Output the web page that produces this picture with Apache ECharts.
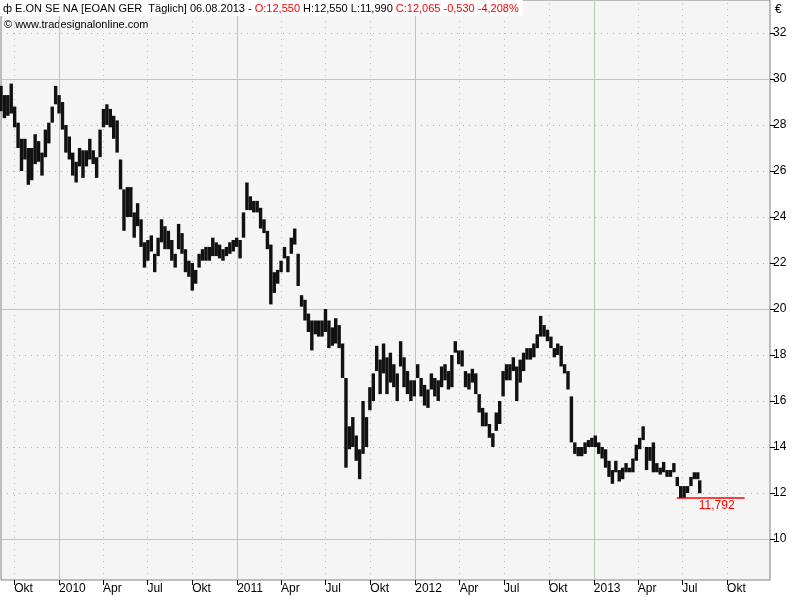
<!DOCTYPE html>
<html><head><meta charset="utf-8">
<script src="https://cdn.jsdelivr.net/npm/echarts@6/dist/echarts.min.js"></script>
<style>html,body{margin:0;padding:0;background:#fff}#c{width:800px;height:600px}</style>
</head><body><div id="c"></div>
<script>
// ---- data ----
const firstWeek = '2009-09-04';   // weekly bars (Fridays) start here
const lastDay = '2013-08-06';     // final (partial) bar
const weekLow = [28.6,28.3,28.4,28.5,27.9,27.0,26.0,26.5,25.4,25.6,26.3,26.4,25.8,26.6,27.2,28.1,28.9,28.5,27.8,26.8,
26.5,25.8,25.5,26.2,25.7,26.2,26.5,26.3,25.7,26.6,27.9,28.0,27.9,27.4,26.8,25.2,23.4,24.0,24.0,23.1,
23.6,22.7,21.8,22.1,22.5,21.6,22.3,22.9,22.6,22.6,22.1,21.8,22.6,22.4,21.6,21.4,20.8,21.1,21.8,22.1,
22.1,22.1,22.3,22.3,22.2,22.1,22.3,22.4,22.5,22.7,22.2,23.1,24.3,24.3,24.2,24.2,23.5,23.3,22.6,20.2,
20.7,21.1,21.6,22.2,21.6,22.4,22.8,21.0,20.1,19.5,19.0,18.2,18.9,18.8,18.8,19.0,18.3,18.4,18.5,18.3,
17.0,13.1,13.9,14.0,13.4,12.6,13.7,14.0,15.6,16.0,17.3,16.3,17.2,16.3,16.8,16.6,16.0,17.5,16.6,16.3,
16.0,16.2,17.0,16.2,15.8,15.7,16.5,16.2,16.0,16.6,16.9,16.5,16.6,18.1,17.6,17.5,16.6,16.5,16.8,16.3,
15.5,14.9,14.9,14.4,14.0,14.7,15.0,16.2,16.9,16.9,17.3,16.0,16.8,17.3,17.8,17.8,17.9,18.3,18.8,18.8,
18.6,18.3,17.9,18.0,17.5,17.2,16.5,14.2,13.7,13.6,13.6,13.7,14.0,14.0,14.0,13.7,13.5,13.1,12.7,12.4,
12.9,12.5,12.6,12.9,12.9,12.9,13.4,13.9,14.3,13.0,13.4,12.9,12.9,12.8,12.9,12.7,12.7,12.9,12.3,11.79,
11.8,12.0,12.3,12.6,12.6,11.99];
const weekHigh = [29.7,29.3,29.3,29.8,28.8,28.1,27.4,27.4,27.0,27.0,27.6,27.3,26.8,27.8,28.1,28.8,29.7,29.3,29.0,28.0,
27.5,26.8,26.4,27.0,26.9,26.9,27.4,26.9,26.6,27.8,28.7,28.9,28.7,28.4,28.2,26.5,25.2,25.3,25.3,24.2,
24.6,23.9,22.9,23.0,23.2,22.4,23.1,23.9,23.6,23.4,23.0,22.4,23.7,23.3,22.6,22.1,22.0,21.7,22.4,22.6,
22.7,22.7,23.1,22.9,22.8,22.6,22.7,22.9,23.0,23.1,23.0,24.2,25.5,24.9,24.7,24.7,24.4,23.9,23.4,22.8,
21.6,21.7,22.1,22.7,22.3,23.1,23.5,22.4,20.6,20.4,19.8,19.5,19.5,19.5,19.5,20.0,19.5,19.2,19.6,19.3,
18.5,17.0,14.9,15.3,14.5,13.9,16.0,15.3,16.6,17.2,18.4,17.8,18.5,17.9,18.1,17.6,17.2,18.6,17.9,17.3,
16.9,16.9,17.6,17.0,16.7,16.5,17.2,17.0,16.9,17.5,17.6,17.3,18.0,18.6,18.2,18.2,17.3,17.2,17.4,17.2,
16.3,15.7,15.5,15.0,14.6,15.5,16.0,17.3,17.6,17.6,17.9,17.5,17.8,18.1,18.3,18.3,18.5,18.9,19.7,19.3,
19.1,18.8,18.3,18.5,18.4,17.6,17.3,16.2,14.2,14.0,14.0,14.2,14.3,14.4,14.5,14.2,14.0,13.9,13.4,13.0,
13.4,13.0,13.1,13.3,13.1,13.5,14.1,14.4,14.9,14.0,14.0,14.2,13.3,13.1,13.35,13.0,13.0,13.3,12.7,12.3,
12.3,12.3,12.7,12.9,12.9,12.55];
const yTickValues = [10,12,14,16,18,20,22,24,26,28,30,32];
const yMajor = [10,20,30];
const quarterDates = ['2009-10-01','2010-01-01','2010-04-01','2010-07-01','2010-10-01','2011-01-01','2011-04-01',
'2011-07-01','2011-10-01','2012-01-01','2012-04-01','2012-07-01','2012-10-01','2013-01-01','2013-04-01','2013-07-01','2013-10-01'];
const monthNames = {3:'Apr',6:'Jul',9:'Okt'};
const lowMark = 11.792;
const lowMarkLabel = '11,792';
const lowMarkFrom = '2013-06-20', lowMarkTo = '2013-11-06';
const xRange = ['2009-09-04','2013-12-28'];
const yRange = [8.217, 33.435];

// ---- helpers ----
const ts = s => { const p = s.split('-').map(Number); return Date.UTC(p[0], p[1]-1, p[2]); };
const DAY = 86400000;
const dates = weekLow.map((_, i) => i === weekLow.length - 1 ? ts(lastDay) : ts(firstWeek) + i*7*DAY);
const bars = dates.map((d, i) => [d, weekLow[i], weekHigh[i]]);
const qTs = quarterDates.map(ts);

const gridLines = [];
yTickValues.forEach(v => gridLines.push({yAxis: v, lineStyle: yMajor.includes(v)
  ? {type:'solid', color:'#b7c9b7', width:1} : {type:[1,5], color:'#b0b0b0', width:1}}));
quarterDates.forEach((q, i) => gridLines.push({xAxis: qTs[i], lineStyle: q.endsWith('01-01')
  ? {type:'solid', color:'#b7c9b7', width:1} : {type:[1,5], color:'#a9c9a9', width:1}}));

const font = 'Liberation Sans, Arial, sans-serif';
const chart = echarts.init(document.getElementById('c'), null, {renderer:'canvas'});
chart.setOption({
  animation: false,
  backgroundColor: '#ffffff',
  grid: {left: 1, right: 30, top: 0, bottom: 20, show: true, backgroundColor: '#f5f5f5', borderColor: '#808080', borderWidth: 1},
  title: {
    text: '{i|ф} E.ON SE NA [EOAN GER  Täglich] 06.08.2013 - {r|O:12,550} H:12,550 L:11,990 {r|C:12,065 -0,530 -4,208%}',
    left: 0, top: 0, padding: [3, 4, 2, 3], backgroundColor: '#ffffff',
    textStyle: {fontSize: 11, fontWeight: 'normal', color: '#000', fontFamily: font,
      rich: {i: {fontSize: 11, color: '#000', fontFamily: font}, r: {fontSize: 11, color: '#ff0000', fontFamily: font}}}
  },
  graphic: [
    {type:'text', left: 4, top: 19, style: {text: '© www.tradesignalonline.com', font: '11px ' + font, fill: '#000'}},
    {type:'text', left: 775, top: 4, style: {text: '€', font: '12px ' + font, fill: '#000'}}
  ],
  xAxis: {
    type: 'value', min: ts(xRange[0]), max: ts(xRange[1]),
    axisLine: {show: false}, splitLine: {show: false},
    axisTick: {show: true, customValues: qTs, length: 5, lineStyle: {color: '#000'}},
    axisLabel: {customValues: qTs, align: 'left', margin: 3, color: '#000', fontSize: 12, fontFamily: font,
      formatter: v => { const d = new Date(v); const m = d.getUTCMonth(); return m === 0 ? String(d.getUTCFullYear()) : monthNames[m]; }}
  },
  yAxis: {
    type: 'value', position: 'right', min: yRange[0], max: yRange[1],
    axisLine: {show: false}, splitLine: {show: false},
    axisTick: {show: true, customValues: yTickValues, length: 5, lineStyle: {color: '#000'}},
    axisLabel: {customValues: yTickValues, margin: 3, color: '#000', fontSize: 12, fontFamily: font}
  },
  series: [
    {type: 'line', data: [], z: 1, silent: true,
     markLine: {silent: true, symbol: 'none', label: {show: false}, data: gridLines, animation: false}},
    {type: 'custom', z: 5, data: bars, silent: true,
     renderItem: (params, api) => {
       const top = api.coord([api.value(0), api.value(2)]);
       const bot = api.coord([api.value(0), api.value(1)]);
       const w = Math.min(api.size([7 * DAY, 0])[0], 3.6);
       return {type: 'rect', shape: {x: top[0] - w/2, y: top[1], width: w, height: Math.max(1, bot[1] - top[1])},
               style: {fill: '#111'}};
     },
     encode: {x: 0, y: [1, 2]}},
    {type: 'line', data: [], z: 6, silent: true,
     markLine: {silent: true, symbol: 'none', animation: false,
       lineStyle: {color: '#ff0000', type: 'solid', width: 1.5},
       label: {show: true, formatter: lowMarkLabel, position: 'insideEndBottom', distance: [10, 2], color: '#ff0000', fontSize: 12, fontFamily: font},
       data: [[{coord: [ts(lowMarkFrom), lowMark]}, {coord: [ts(lowMarkTo), lowMark]}]]}}
  ]
});
</script></body></html>
